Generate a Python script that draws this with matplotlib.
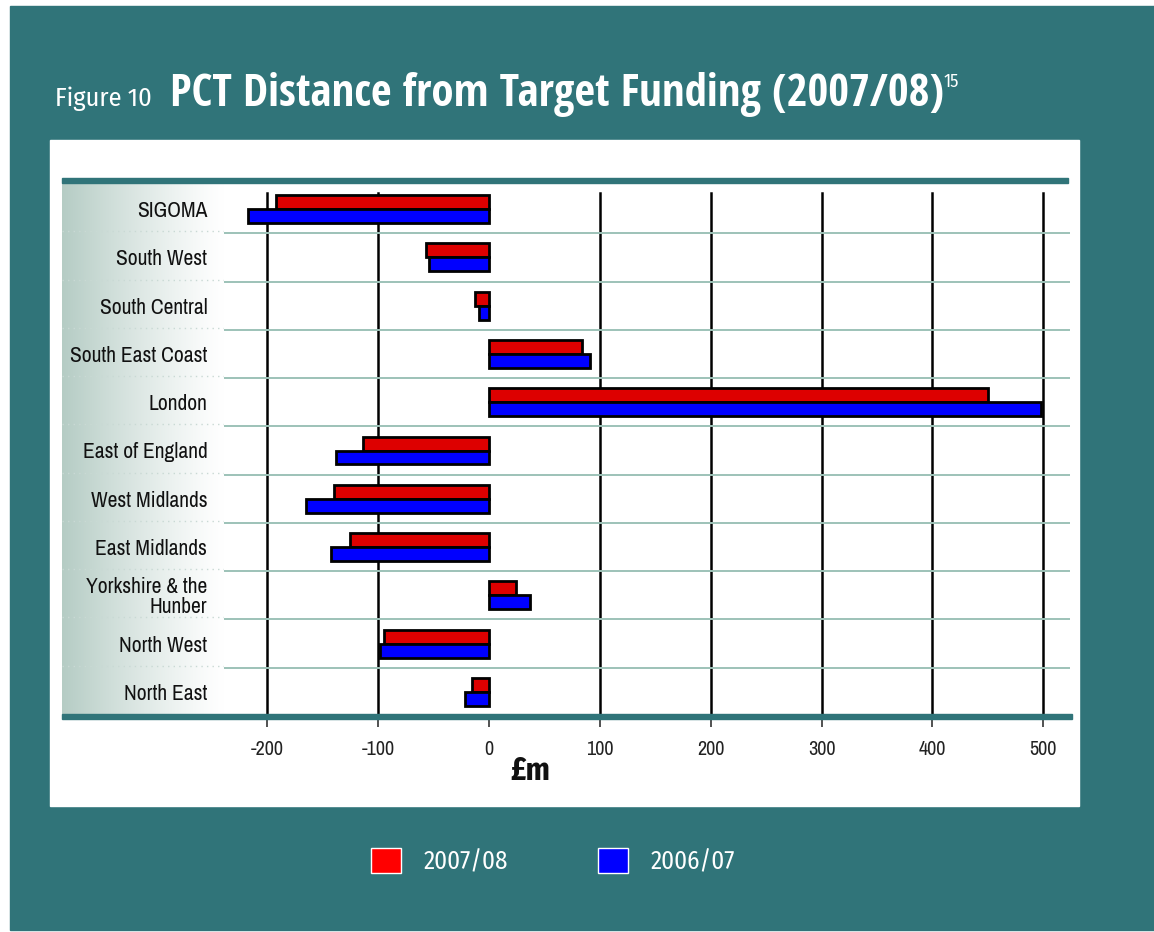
import matplotlib
matplotlib.use('Agg')
import matplotlib.pyplot as plt
from matplotlib.patches import Rectangle, Patch
import numpy as np

regions = ['SIGOMA', 'South West', 'South Central', 'South East Coast', 'London',
           'East of England', 'West Midlands', 'East Midlands',
           'Yorkshire & the\nHunber', 'North West', 'North East']
dist_0708 = [-192, -57, -13, 84, 450, -114, -140, -125, 24, -95, -15]
dist_0607 = [-217, -54, -9, 91, 498, -138, -165, -143, 37, -98, -22]
series_labels = ['2007/08', '2006/07']
xticks = [-200, -100, 0, 100, 200, 300, 400, 500]

W, H = 1154, 932
teal = '#307479'
narrow = ['Archivo Narrow', 'DejaVu Sans']
title_font = ['Open Sans Condensed', 'Open Sans', 'DejaVu Sans']
legend_font = ['Fira Sans Condensed', 'DejaVu Sans']
plt.rcParams['font.family'] = narrow


def fx(px):
    return px / W


def fy(py):
    return 1 - py / H


fig = plt.figure(figsize=(W / 100, H / 100), dpi=100, facecolor='white')

# teal page and white chart panel
fig.patches.append(Rectangle((fx(10), fy(930)), fx(1154 - 10), (930 - 6) / H,
                             transform=fig.transFigure, color=teal, zorder=-3))
fig.patches.append(Rectangle((fx(50), fy(806)), fx(1079 - 50), (806 - 140) / H,
                             transform=fig.transFigure, color='white', zorder=-2))

# shaded label strip on the left
gax = fig.add_axes([fx(62), fy(714), fx(224 - 62), (714 - 183) / H], zorder=-1)
t = np.linspace(0, 1, 200)
shade = (1 - t) ** 1.2
c0 = np.array([0.71, 0.80, 0.77])
img = 1 - shade[None, :, None] * (1 - c0[None, None, :])
gax.imshow(img, aspect='auto', extent=[0, 1, 0, 1])
for i in range(10):
    gax.axhline(1 - (i + 1) / 11, color='#c9d9d4', lw=1, ls=(0, (1, 3)))
gax.set_axis_off()

ax = fig.add_axes([fx(224), fy(716), fx(1070 - 224), (716 - 185) / H])
ax.set_facecolor('none')
y = np.arange(len(regions))

for v in xticks:
    if v != 0:
        ax.axvline(v, ymin=0, ymax=0.985, color='black', lw=1.8, zorder=1)
for i in range(len(regions) - 1):
    ax.axhline(i + 0.5, color='#9dc2b8', lw=1.4, zorder=1)

ax.barh(y - 0.145, dist_0708, height=0.29, color='#dd0000', edgecolor='black',
        lw=2, zorder=3)
ax.barh(y + 0.145, dist_0607, height=0.29, color='#0000ff', edgecolor='black',
        lw=2, zorder=3)

ax.set_xlim(-239.1, 524.1)
ax.set_ylim(len(regions) - 0.5, -0.5)
for s in ax.spines.values():
    s.set_visible(False)

ax.set_xticks(xticks)
ax.set_xticklabels([str(v) for v in xticks])
ax.tick_params(axis='x', length=8, width=1.2, color='#333333', pad=9,
               labelsize=14.5, labelcolor='#222222')
ax.set_yticks(y)
ax.set_yticklabels(regions)
ax.tick_params(axis='y', length=0, pad=12, labelsize=15.5, labelcolor='#111111')
for lbl in ax.get_yticklabels():
    lbl.set_linespacing(1.0)

# teal bands above and below the plot
fig.patches.append(Rectangle((fx(62), fy(183)), fx(1068 - 62), 5 / H,
                             transform=fig.transFigure, color=teal, zorder=2))
fig.patches.append(Rectangle((fx(62), fy(719)), fx(1072 - 62), 5 / H,
                             transform=fig.transFigure, color=teal, zorder=2))

fig.text(fx(530), fy(771), '£m', fontsize=23, weight='bold', ha='center',
         va='center', color='#111111', family=legend_font)

# title
fig.text(fx(55), fy(106), 'Figure 10', fontsize=19, color='white', va='baseline',
         family=legend_font, weight='normal')
title = fig.text(fx(170), fy(106), 'PCT Distance from Target Funding (2007/08)',
                 fontsize=31, weight='bold', color='white', va='baseline',
                 family=title_font)
fig.canvas.draw()
bb = title.get_window_extent()
title.set_fontsize(31 * min(1.2, max(0.8, 770 / bb.width)))
fig.canvas.draw()
bb = title.get_window_extent()
fig.text(bb.x1 / W, fy(87), '15', fontsize=13, color='white',
         va='baseline', family=legend_font)

handles = [Patch(facecolor='#ff0000', edgecolor='white', lw=1),
           Patch(facecolor='#0000ff', edgecolor='white', lw=1)]
fig.legend(handles, series_labels, loc='center', bbox_to_anchor=(fx(553), fy(861)),
           ncol=2, frameon=False, prop={'family': legend_font, 'size': 18},
           labelcolor='white', handlelength=1.2, handleheight=1.2,
           handletextpad=0.9, columnspacing=3.6)

fig.savefig('out.png', dpi=100, facecolor='white')
